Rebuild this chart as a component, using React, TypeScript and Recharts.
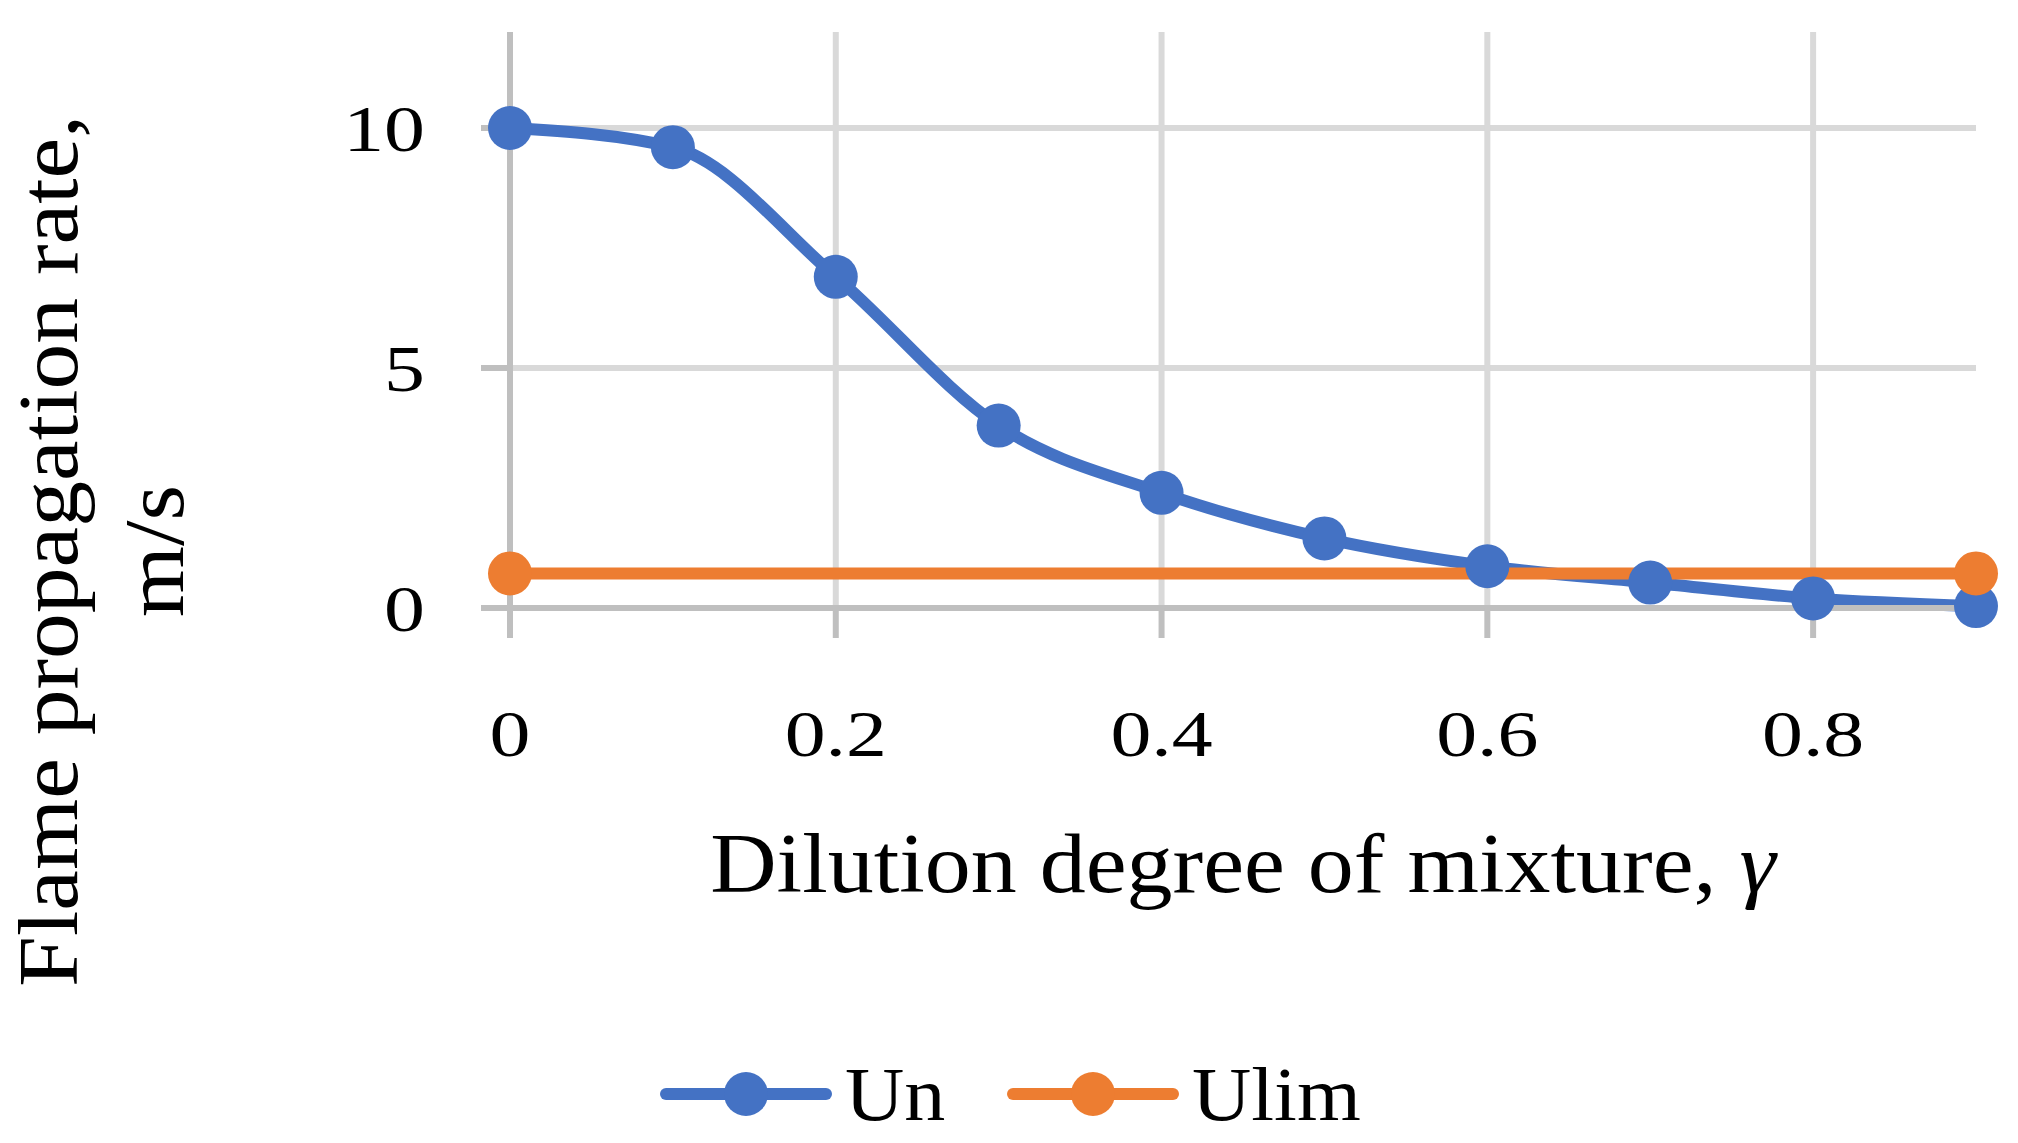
import React from "react";
import { LineChart, Line, XAxis, YAxis, CartesianGrid, Legend } from "recharts";

// dilution degree of mixture, gamma
const gammaValues = [0, 0.1, 0.2, 0.3, 0.4, 0.5, 0.6, 0.7, 0.8, 0.9];
// flame propagation rate, m/s
const unValues = [10, 9.6, 6.9, 3.8, 2.4, 1.45, 0.87, 0.53, 0.2, 0.04];
// limit rate: a flat line drawn between its two end points
const ulimGamma = [0, 0.9];
const ulimValues = [0.72, 0.72];

const xTicks = [0, 0.2, 0.4, 0.6, 0.8];
const yTicks = [0, 5, 10];

const unData = gammaValues.map((g, i) => ({ gamma: g, Un: unValues[i] }));
const ulimData = ulimGamma.map((g, i) => ({ gamma: g, Ulim: ulimValues[i] }));

const BLUE = "#4472C4";
const ORANGE = "#ED7D31";
const FONT = "'Liberation Serif', 'Times New Roman', serif";

const YTick = ({ x, y, payload }: any) => (
  <g transform={`translate(${x},${y}) scale(1.24,1)`}>
    <text x={0} y={0} dy={23} textAnchor="end" fontSize={66} fontFamily={FONT} fill="#000">
      {payload.value}
    </text>
  </g>
);

const XTick = ({ x, y, payload }: any) => (
  <g transform={`translate(${x},${y}) scale(1.24,1)`}>
    <text x={0} y={0} dy={23} textAnchor="middle" fontSize={66} fontFamily={FONT} fill="#000">
      {payload.value}
    </text>
  </g>
);

const XTitle = () => (
  <g transform="translate(1243,892) scale(1.095,1)">
    <text x={0} y={0} textAnchor="middle" fontSize={84} fontFamily={FONT} fill="#000">
      Dilution degree of mixture, <tspan fontStyle="italic">γ</tspan>
    </text>
  </g>
);

const YTitle = () => (
  <g>
    <g transform="translate(77,551) rotate(-90) scale(1.09,1)">
      <text x={0} y={0} textAnchor="middle" fontSize={84} fontFamily={FONT} fill="#000">
        Flame propagation rate,
      </text>
    </g>
    <g transform="translate(183,551) rotate(-90) scale(1.09,1)">
      <text x={0} y={0} textAnchor="middle" fontSize={84} fontFamily={FONT} fill="#000">
        m/s
      </text>
    </g>
  </g>
);

const legendOrder = ["Un", "Ulim"];
const legendSpots: Record<string, { iconLeft: number; textLeft: number }> = {
  Un: { iconLeft: 660, textLeft: 845 },
  Ulim: { iconLeft: 1007, textLeft: 1192 },
};

const LegendContent = ({ payload }: any) => {
  const items = legendOrder
    .map((name) => (payload || []).find((p: any) => p.value === name))
    .filter(Boolean);
  return (
    <div style={{ position: "relative", width: 2018, height: 110 }}>
      {items.map((item: any) => {
        const spot = legendSpots[item.value];
        return (
          <React.Fragment key={item.value}>
            <svg
              width={172}
              height={50}
              style={{ position: "absolute", left: spot.iconLeft, top: 36 }}
            >
              <line x1={6} y1={25} x2={166} y2={25} stroke={item.color} strokeWidth={12} strokeLinecap="round" />
              <circle cx={86} cy={25} r={22} fill={item.color} />
            </svg>
            <span
              style={{
                position: "absolute",
                left: spot.textLeft,
                top: 61,
                transform: "translateY(-50%) scaleX(1.08)",
                transformOrigin: "left center",
                fontFamily: FONT,
                fontSize: 76,
                lineHeight: "76px",
                color: "#000",
                whiteSpace: "nowrap",
              }}
            >
              {item.value}
            </span>
          </React.Fragment>
        );
      })}
    </div>
  );
};

export default function App() {
  return (
    <div style={{ position: "absolute", left: 0, top: 0, width: 2018, height: 1143, background: "#fff" }}>
      <LineChart width={2018} height={1143} margin={{ top: 32, right: 42, left: 0, bottom: 0 }}>
        <CartesianGrid stroke="#D9D9D9" strokeWidth={6} syncWithTicks />
        <XAxis
          dataKey="gamma"
          type="number"
          domain={[0, 0.9]}
          ticks={xTicks}
          height={425}
          axisLine={{ stroke: "#BFBFBF", strokeWidth: 6 }}
          tickLine={{ stroke: "#BFBFBF", strokeWidth: 6 }}
          tickSize={30}
          tickMargin={95}
          tick={<XTick />}
          interval={0}
          allowDuplicatedCategory={false}
          label={{ content: () => <XTitle /> }}
        />
        <YAxis
          type="number"
          domain={[0, 12]}
          ticks={yTicks}
          width={510}
          axisLine={{ stroke: "#BFBFBF", strokeWidth: 6 }}
          tickLine={{ stroke: "#BFBFBF", strokeWidth: 6 }}
          tickSize={29}
          tickMargin={56}
          tick={<YTick />}
          interval={0}
          label={{ content: () => <YTitle /> }}
        />
        <Legend
          verticalAlign="bottom"
          height={110}
          wrapperStyle={{ left: 0, width: 2018 }}
          content={<LegendContent />}
        />
        <Line
          data={unData}
          dataKey="Un"
          name="Un"
          type="monotone"
          stroke={BLUE}
          strokeWidth={12}
          dot={{ r: 22, fill: BLUE, stroke: BLUE, strokeWidth: 0 }}
          activeDot={false}
          isAnimationActive={false}
        />
        <Line
          data={ulimData}
          dataKey="Ulim"
          name="Ulim"
          type="monotone"
          stroke={ORANGE}
          strokeWidth={12}
          dot={{ r: 22, fill: ORANGE, stroke: ORANGE, strokeWidth: 0 }}
          activeDot={false}
          isAnimationActive={false}
        />
      </LineChart>
    </div>
  );
}
